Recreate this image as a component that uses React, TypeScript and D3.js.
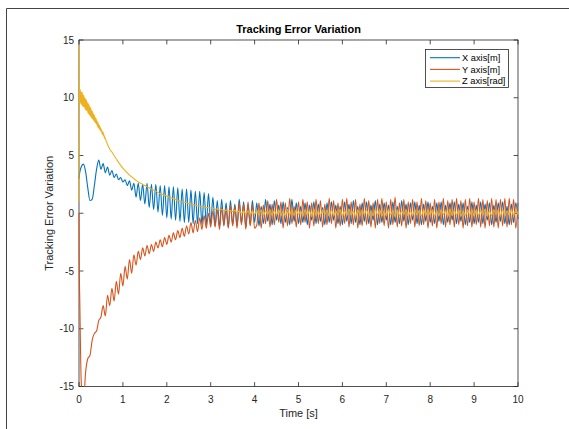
import React from 'react';
import * as d3 from 'd3';

const xTicks = [0, 1, 2, 3, 4, 5, 6, 7, 8, 9, 10];
const yTicks = [-15, -10, -5, 0, 5, 10, 15];
const seriesNames = ['X axis[m]', 'Y axis[m]', 'Z axis[rad]'];
const seriesColors = ['#0072BD', '#D95319', '#EDB120'];

// sample times: three early samples, then a regular 0.05 s step up to 10 s
const earlyTimes = [0, 0.005, 0.02];
const sampleStep = 0.05;
const sampleCount = 200;
// Z series is read more finely over its noisy start (0 .. 0.70 s, 0.01 s step)
const zFineStep = 0.01;
const zFineCount = 70;
const zLateStart = 0.75;

const xError = [
  3.0, 3.2, 3.6,
  4.0, 4.25, 3.6, 2.2, 1.1, 1.2, 2.4, 3.8, 4.6, 3.8,
  4.3, 3.5, 4.0, 3.3, 3.7, 3.1, 3.4, 2.9, 3.1, 2.7,
  2.9, 2.4, 2.8, 2.0, 2.6, 1.4, 2.6, 1.1, 2.5, 0.8,
  2.6, 0.5, 2.5, 0.3, 2.5, 0.1, 2.4, -0.2, 2.4, -0.4,
  2.3, -0.5, 2.3, -0.6, 2.2, -0.7, 2.1, -0.8, 2.1, -0.8,
  2.0, -0.9, 1.9, -0.9, 1.9, -1.0, 1.8, -1.0, 1.7, -1.0,
  1.4, -1.1, 1.1, -1.2, 1.2, -1.1, 0.9, -1.2, 1.1, -1.0,
  0.8, -1.1, 1.2, -0.9, 1.0, -1.2, 0.7, -1.0, 1.1, -0.8,
  0.9, -1.1, 0.6, -0.9, 1.2, -0.7, 0.8, -1.0, 1.1, -0.6,
  0.7, -0.9, 1.0, -0.8, 0.5, -1.0, 1.2, -0.7, 0.9, -0.9,
  0.6, -0.8, 0.9, -1.0, 0.7, -0.6, 1.0, -0.9, 0.8, -0.7,
  0.5, -1.0, 0.9, -0.8, 1.0, -0.6, 0.7, -0.9, 0.6, -1.0,
  1.0, -0.7, 0.8, -0.9, 1.1, -0.8, 0.6, -1.0, 0.9, -0.7,
  1.0, -0.9, 0.7, -0.6, 1.1, -1.0, 0.8, -0.8, 0.9, -0.6,
  0.7, -1.0, 1.0, -0.8, 0.6, -0.9, 1.1, -0.7, 0.8, -1.0,
  0.9, -0.6, 1.0, -0.9, 0.7, -1.0, 0.8, -0.7, 1.0, -0.8,
  0.6, -0.9, 0.9, -0.7, 1.0, -1.0, 0.7, -0.8, 0.9, -0.6,
  1.0, -0.9, 0.8, -0.7, 0.9, -1.0, 0.6, -0.8, 1.0, -0.9,
  0.7, -0.8, 1.0, -0.9, 0.8, -0.6, 0.9, -1.0, 0.7, -0.8,
  0.9, -0.7, 1.0, -0.9, 0.6, -1.0, 0.8, -0.8, 0.9, -0.5,
];

const yError = [
  0, -4, -8,
  -14.5, -16.5, -13.8, -12.6, -12.3, -11.0, -10.4, -10.2, -9.3, -9.0,
  -8.0, -8.9, -7.1, -8.0, -6.5, -7.6, -5.9, -7.0, -5.2, -6.3,
  -4.6, -5.7, -4.0, -5.2, -3.6, -4.5, -3.3, -4.0, -3.0, -3.7,
  -2.8, -3.5, -2.7, -3.3, -2.5, -3.0, -2.3, -2.9, -2.1, -2.7,
  -1.9, -2.5, -1.7, -2.3, -1.5, -2.1, -1.3, -2.0, -1.1, -1.8,
  -0.8, -1.7, -0.6, -1.6, -0.4, -1.4, -0.2, -1.3, 0.0, -1.2,
  0.2, -1.2, 0.3, -1.4, 0.5, -1.0, 0.4, -1.3, 0.7, -1.1,
  0.6, -1.3, 0.9, -1.0, 0.8, -1.4, 1.0, -1.1, 0.7, -1.3,
  -1.0, 0.9, -1.3, 0.7, -0.9, 1.1, -1.2, 0.8, -1.0, 1.2,
  -0.8, 1.0, -1.3, 0.9, -1.1, 1.3, -0.9, 0.6, -1.2, 1.0,
  -1.0, 1.2, -0.8, 1.0, -1.3, 0.9, -1.1, 1.2, -0.9, 1.1,
  -1.2, 0.8, -1.0, 1.3, -0.9, 1.1, -1.3, 0.9, -1.1, 1.2,
  -0.9, 1.3, -1.2, 1.0, -1.0, 1.2, -1.3, 0.8, -1.1, 1.3,
  -1.0, 1.1, -1.2, 0.9, -1.3, 1.2, -0.9, 1.3, -1.1, 1.0,
  -1.3, 1.2, -1.0, 1.4, -1.2, 0.9, -1.1, 1.2, -1.3, 1.0,
  -0.9, 1.2, -1.2, 1.0, -1.1, 1.3, -1.0, 1.1, -1.3, 0.9,
  -1.1, 1.2, -1.3, 1.0, -0.9, 1.3, -1.2, 1.1, -1.0, 1.2,
  -1.2, 1.3, -1.0, 1.1, -1.3, 1.2, -1.1, 1.3, -1.2, 1.0,
  -1.0, 1.3, -1.2, 1.2, -1.3, 1.1, -1.1, 1.3, -1.2, 1.2,
  -1.3, 1.2, -1.1, 1.3, -1.2, 1.3, -1.0, 1.2, -1.3, 0.9,
];

// Z: t = 0, 0.005, then 0.01 .. 0.70
const zErrorStart = [
  1.0, 14.5,
  10.8, 9.6, 10.7, 9.5, 10.5, 9.4, 10.5, 9.3, 10.3, 9.2,
  10.2, 9.2, 10.0, 9.0, 9.9, 8.9, 9.8, 8.9, 9.6, 8.7,
  9.5, 8.6, 9.4, 8.5, 9.2, 8.4, 9.1, 8.3, 8.9, 8.2,
  8.8, 8.1, 8.6, 8.0, 8.5, 7.9, 8.3, 7.8, 8.2, 7.7,
  8.0, 7.5, 7.9, 7.4, 7.7, 7.3, 7.6, 7.2, 7.4, 7.1,
  7.3, 6.9, 7.1, 6.8, 7.0, 6.7, 6.8, 6.5, 6.6, 6.4,
  6.4, 6.2, 6.2, 6.0, 6.0, 5.85, 5.8, 5.7, 5.65, 5.55,
];
// Z: t = 0.75 .. 10 (0.05 s step)
const zErrorLate = [
  5.3, 5.0, 4.7, 4.4, 4.15, 3.9,
  3.7, 3.5, 3.3, 3.15, 3.0, 2.85, 2.7, 2.6, 2.5, 2.4,
  2.3, 2.2, 2.1, 2.0, 1.9, 1.8, 1.7, 1.65, 1.55, 1.5,
  1.4, 1.35, 1.25, 1.2, 1.1, 1.05, 1.0, 0.95, 0.9, 0.85,
  0.8, 0.75, 0.7, 0.65, 0.6, 0.58, 0.55, 0.5, 0.48, 0.45,
  0.45, 0.35, 0.38, 0.28, 0.32, 0.22, 0.27, 0.18, 0.24, 0.15,
  0.25, 0.05, 0.2, 0.0, 0.2, -0.05, 0.22, -0.1, 0.2, -0.1,
  0.25, -0.15, 0.3, -0.2, 0.2, -0.1, 0.3, -0.2, 0.25, -0.15,
  0.3, -0.2, 0.2, -0.25, 0.35, -0.15, 0.25, -0.2, 0.3, -0.1,
  0.2, -0.25, 0.3, -0.15, 0.25, -0.3, 0.35, -0.2, 0.2, -0.15,
  0.3, -0.1, 0.25, -0.25, 0.3, -0.2, 0.2, -0.15, 0.35, -0.25,
  0.25, -0.2, 0.35, -0.15, 0.2, -0.3, 0.3, -0.2, 0.25, -0.1,
  0.3, -0.25, 0.2, -0.2, 0.35, -0.15, 0.3, -0.25, 0.2, -0.2,
  0.35, -0.15, 0.25, -0.3, 0.3, -0.2, 0.2, -0.1, 0.3, -0.25,
  0.2, -0.2, 0.3, -0.15, 0.25, -0.25, 0.35, -0.2, 0.3, -0.15,
  0.3, -0.25, 0.2, -0.2, 0.3, -0.1, 0.25, -0.3, 0.35, -0.2,
  0.25, -0.15, 0.3, -0.25, 0.2, -0.2, 0.35, -0.15, 0.3, -0.25,
  0.3, -0.2, 0.25, -0.15, 0.35, -0.25, 0.2, -0.2, 0.3, -0.1,
  0.25, -0.25, 0.3, -0.2, 0.2, -0.15, 0.35, -0.2, 0.25, -0.1,
];

const W = 569;
const H = 429;
const PL = 79;
const PR = 518;
const PT = 40;
const PB = 386.5;
const FONT = '"Liberation Sans", Arial, Helvetica, sans-serif';
const AXIS = '#262626';

export default function App() {
  const round = (v: number) => +v.toFixed(3);
  const commonTimes = [...earlyTimes, ...d3.range(1, sampleCount + 1).map((i) => round(i * sampleStep))];
  const zTimes = [
    0,
    0.005,
    ...d3.range(1, zFineCount + 1).map((i) => round(i * zFineStep)),
    ...commonTimes.filter((t) => t >= zLateStart - 1e-9),
  ];
  const x = d3.scaleLinear().domain([0, 10]).range([PL, PR]);
  const y = d3.scaleLinear().domain([-15, 15]).range([PB, PT]);
  const makeLine = (times: number[]) =>
    d3
      .line<number>()
      .x((_, i) => x(times[i]))
      .y((d) => y(d))
      .curve(d3.curveMonotoneX);
  const series = [
    { values: xError, times: commonTimes },
    { values: yError, times: commonTimes },
    { values: [...zErrorStart, ...zErrorLate], times: zTimes },
  ];
  const tickLen = 4.4;

  return (
    <svg
      width={W}
      height={H}
      style={{ position: 'absolute', left: 0, top: 0, background: '#fff' }}
      fontFamily={FONT}
    >
      <rect x={0} y={0} width={W} height={H} fill="#fff" />
      <line x1={6.5} y1={8.5} x2={W} y2={8.5} stroke="#444" strokeWidth={1} />
      <line x1={6.5} y1={8.5} x2={6.5} y2={H} stroke="#444" strokeWidth={1} />
      <defs>
        <clipPath id="plotClip">
          <rect x={PL - 1} y={PT} width={PR - PL + 2} height={PB - PT} />
        </clipPath>
      </defs>
      <rect x={PL} y={PT} width={PR - PL} height={PB - PT} fill="none" stroke={AXIS} strokeWidth={0.8} />
      {xTicks.map((t) => (
        <g key={'x' + t}>
          <line x1={x(t)} x2={x(t)} y1={PB} y2={PB - tickLen} stroke={AXIS} strokeWidth={0.8} />
          <line x1={x(t)} x2={x(t)} y1={PT} y2={PT + tickLen} stroke={AXIS} strokeWidth={0.8} />
          <text x={x(t)} y={PB + 16} fontSize={10} textAnchor="middle" fill={AXIS}>
            {t}
          </text>
        </g>
      ))}
      {yTicks.map((t) => (
        <g key={'y' + t}>
          <line x1={PL} x2={PL + tickLen} y1={y(t)} y2={y(t)} stroke={AXIS} strokeWidth={0.8} />
          <line x1={PR} x2={PR - tickLen} y1={y(t)} y2={y(t)} stroke={AXIS} strokeWidth={0.8} />
          <text x={PL - 5} y={y(t) + 3.5} fontSize={10} textAnchor="end" fill={AXIS}>
            {t}
          </text>
        </g>
      ))}
      <g clipPath="url(#plotClip)">
        {series.map((s, k) => (
          <path
            key={k}
            d={makeLine(s.times)(s.values) || ''}
            fill="none"
            stroke={seriesColors[k]}
            strokeWidth={1.1}
            strokeLinejoin="round"
          />
        ))}
      </g>
      <text x={(PL + PR) / 2} y={33} fontSize={11} fontWeight="bold" textAnchor="middle" fill="#000">
        Tracking Error Variation
      </text>
      <text x={(PL + PR) / 2} y={417} fontSize={11} textAnchor="middle" fill={AXIS}>
        Time [s]
      </text>
      <text
        transform={`translate(53, ${(PT + PB) / 2}) rotate(-90)`}
        fontSize={11}
        textAnchor="middle"
        fill={AXIS}
      >
        Tracking Error Variation
      </text>
      <rect x={425.5} y={49.5} width={83} height={38} fill="#fff" stroke={AXIS} strokeWidth={0.8} />
      {seriesNames.map((n, k) => (
        <g key={n}>
          <line x1={430} x2={460} y1={57.7 + k * 11.7} y2={57.7 + k * 11.7} stroke={seriesColors[k]} strokeWidth={1.1} />
          <text x={462} y={57.7 + k * 11.7 + 3.3} fontSize={9.3} fill="#000">
            {n}
          </text>
        </g>
      ))}
    </svg>
  );
}
